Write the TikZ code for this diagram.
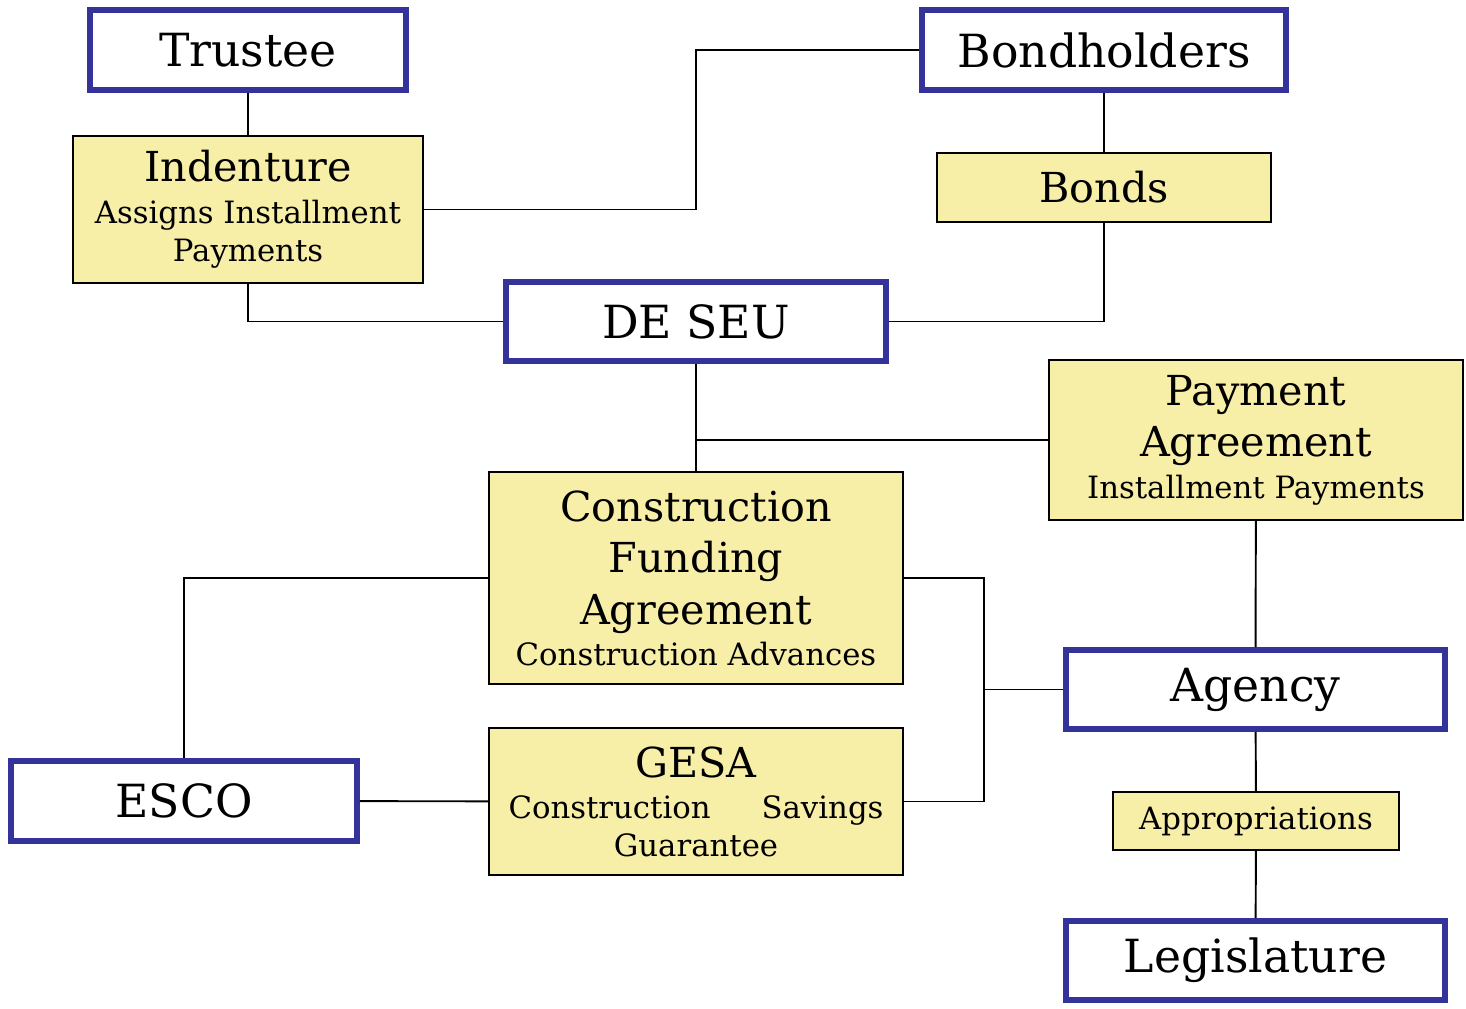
\documentclass[tikz,border=0pt]{standalone}
\usepackage{fontspec}
\setmainfont{DejaVu Serif}
\usepackage{tikz}

\definecolor{partyblue}{RGB}{51,51,153}
\definecolor{docyellow}{RGB}{247,238,168}
\newcommand\bigtxt{\fontsize{26}{32}\selectfont}
\newcommand\midtxt{\fontsize{23.5}{29.5}\selectfont}
\newcommand\smalltxt{\fontsize{17.5}{22.5}\selectfont}

\begin{document}
\begin{tikzpicture}[
        party/.style={draw=partyblue, line width=3.4pt, fill=white, align=center, font=\bigtxt, inner sep=0pt},
        doc/.style={draw, line width=1.1pt, fill=docyellow, align=center, font=\midtxt, inner sep=0pt},
        every path/.style={line width=1.1pt}
    ]
        \useasboundingbox (0,0) rectangle (29.32,-20.18);
        \node[party, minimum width=6.32cm, minimum height=1.6cm] (Trustee) at (4.96,-1.0) {%
            Trustee%
        };
        \node[party, minimum width=7.28cm, minimum height=1.6cm] (Bondholders) at (22.08,-1.0) {%
            Bondholders%
        };
        \node[doc, minimum width=7.0cm, minimum height=2.94cm] (Indenture) at (4.96,-4.19) {%
            Indenture\\[-6pt] \smalltxt Assigns Installment\\[-7.5pt] \smalltxt Payments%
        };
        \node[doc, minimum width=6.68cm, minimum height=1.38cm] (Bonds) at (22.08,-3.75) {%
            Bonds%
        };
        \node[party, minimum width=7.6cm, minimum height=1.58cm] (DESEU) at (13.92,-6.43) {%
            DE SEU%
        };
        \node[doc, minimum width=8.28cm, minimum height=3.2cm] (Payment) at (25.12,-8.8) {%
            Payment\\ Agreement\\[-6pt] \smalltxt Installment Payments%
        };
        \node[doc, minimum width=8.28cm, minimum height=4.24cm] (Funding) at (13.92,-11.56) {%
            Construction\\ Funding\\ Agreement\\[-6.5pt] \smalltxt Construction Advances%
        };
        \node[party, minimum width=7.58cm, minimum height=1.58cm] (Agency) at (25.11,-13.79) {%
            Agency%
        };
        \node[party, minimum width=6.92cm, minimum height=1.6cm] (ESCO) at (3.68,-16.02) {%
            ESCO%
        };
        \node[doc, minimum width=8.28cm, minimum height=2.94cm] (GESA) at (13.92,-16.03) {%
            GESA\\[-6pt] \smalltxt\hbox to 7.5cm{Construction\hfill Savings}\\[-8pt] \smalltxt Guarantee%
        };
        \node[doc, minimum width=5.72cm, minimum height=1.16cm, font=\smalltxt] (Appropriations) at (25.12,-16.42) {%
            Appropriations%
        };
        \node[party, minimum width=7.58cm, minimum height=1.58cm] (Legislature) at (25.11,-19.21) {%
            Legislature%
        };
        \coordinate (Bus) at (19.68,-13.79);
        % trustee and bondholders side
        \draw (Trustee) -- (Indenture);
        \draw (Indenture) -- (Indenture -| DESEU) |- (Bondholders);
        \draw (Bondholders) -- (Bonds);
        \draw (Bonds) |- (DESEU);
        \draw (Indenture) |- (DESEU);
        % agreements
        \draw (DESEU) -- (Funding);
        \draw (Payment) -- (Payment -| DESEU);
        \draw (Funding) -| (ESCO);
        \draw (ESCO) -- (GESA);
        \draw (Funding) -| (Bus) |- (GESA);
        \draw (Bus) -- (Agency);
        % agency side
        \draw (Payment) -- (Agency);
        \draw (Agency) -- (Appropriations);
        \draw (Appropriations) -- (Legislature);
    \end{tikzpicture}
\end{document}
